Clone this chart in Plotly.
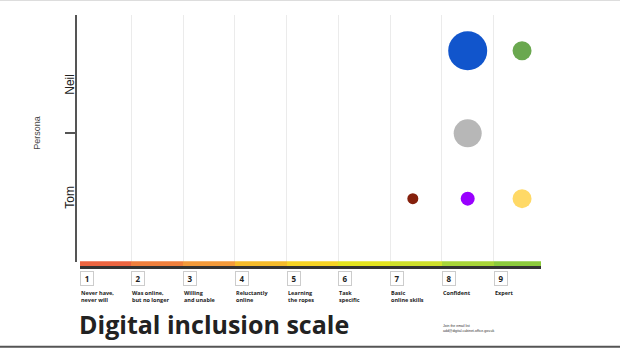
import plotly.graph_objects as go

# ---------------- data ----------------
levels = [1, 2, 3, 4, 5, 6, 7, 8, 9]
level_labels = [
    "Never have,<br>never will",
    "Was online,<br>but no longer",
    "Willing<br>and unable",
    "Reluctantly<br>online",
    "Learning<br>the ropes",
    "Task<br>specific",
    "Basic<br>online skills",
    "Confident",
    "Expert",
]
segment_colors = ["#ec6440", "#f07f3c", "#f39a3a", "#f5bb2a", "#f7d424",
                  "#e4e41f", "#cfe02b", "#a8d538", "#8ccb3c"]
band_value = [1] * 9

persona_names = ["Neil", "Tom"]
persona_pos = [0.717, 0.259]

bubble_level = [8.0, 9.05, 8.0, 6.94, 8.0, 9.05]
bubble_row = [0.855, 0.855, 0.52, 0.255, 0.255, 0.255]
bubble_size = [39, 19, 28, 11, 14, 19]
bubble_colors = ["#1155cc", "#6aa84f", "#b7b7b7", "#85200c", "#9900ff", "#ffd966"]

title_text = "Digital inclusion scale"
email_text = "Join the email list<br>add@digital.cabinet-office.gov.uk"

# ---------------- layout geometry ----------------
W, H = 620, 349
L, R, T, B = 77, 79, 15, 79.5
PW = W - L - R
PH = H - T - B
bottom_px = H - B


def px(xp):
    return (xp - L) / PW


def py(yp):
    return (bottom_px - yp) / PH


fig = go.Figure()

# bubbles
fig.add_trace(go.Scatter(
    x=bubble_level, y=bubble_row, mode="markers",
    marker=dict(size=bubble_size, sizemode="diameter", color=bubble_colors,
                opacity=1, line=dict(width=0)),
    xaxis="x", yaxis="y", hoverinfo="skip", showlegend=False,
))

# scale bar (dark base + coloured band)
fig.add_trace(go.Bar(x=levels, y=[0.36 * v for v in band_value], width=1,
                     marker=dict(color="#333333", line=dict(width=0)),
                     xaxis="x", yaxis="y2", showlegend=False, hoverinfo="skip"))
fig.add_trace(go.Bar(x=levels, y=[0.64 * v for v in band_value], width=1,
                     marker=dict(color=segment_colors, line=dict(width=0)),
                     xaxis="x", yaxis="y2", showlegend=False, hoverinfo="skip"))

annotations = []
# number boxes and labels
for lv, lab in zip(levels, level_labels):
    annotations.append(dict(
        x=lv - 0.5, xref="x", xanchor="left", y=py(279), yref="paper", yanchor="middle",
        text=f"<b>{lv}</b>", showarrow=False, width=12, height=13,
        bordercolor="#cccccc", borderwidth=1, borderpad=0, bgcolor="white",
        font=dict(family="Open Sans, Arial", size=8, color="#222222"), align="center"))
    annotations.append(dict(
        x=lv - 0.5, xref="x", xanchor="left", y=py(289), yref="paper", yanchor="top",
        text=f"<b>{lab}</b>", showarrow=False, align="left", borderpad=0,
        font=dict(family="Open Sans, Arial", size=5.5, color="#222222")))

# persona labels
for name, pos in zip(persona_names, persona_pos):
    annotations.append(dict(
        x=px(70), xref="paper", y=pos, yref="y", text=name, textangle=-90,
        showarrow=False, xanchor="center", yanchor="middle",
        font=dict(family="Arial", size=12, color="#222222")))

annotations.append(dict(
    x=px(37), xref="paper", y=py(133), yref="paper", text="Persona", textangle=-90,
    showarrow=False, xanchor="center", yanchor="middle",
    font=dict(family="Arial", size=9, color="#444444")))

annotations.append(dict(
    x=px(77), xref="paper", xanchor="left", y=py(324.5), yref="paper", yanchor="middle",
    text=f"<b>{title_text}</b>", showarrow=False,
    font=dict(family="Open Sans", size=25, color="#222222", weight=800)))

annotations.append(dict(
    x=px(441), xref="paper", xanchor="left", y=py(329.5), yref="paper", yanchor="middle",
    text=email_text, showarrow=False, align="left",
    font=dict(family="Arial", size=3.5, color="#333333")))

shapes = [
    dict(type="line", xref="paper", yref="paper", x0=px(0), x1=px(W), y0=py(0.5), y1=py(0.5),
         line=dict(color="#dddddd", width=1)),
    dict(type="line", xref="paper", yref="paper", x0=px(0), x1=px(W), y0=py(347.5), y1=py(347.5),
         line=dict(color="#555555", width=2)),
]

x_lo = 0.5 - (79.5 - L) / 51.76
x_hi = x_lo + PW / 51.76

fig.update_layout(
    width=W, height=H,
    margin=dict(l=L, r=R, t=T, b=B, pad=0),
    paper_bgcolor="white", plot_bgcolor="white",
    barmode="stack", bargap=0,
    xaxis=dict(range=[x_lo, x_hi], tickvals=[1.5, 2.5, 3.5, 4.5, 5.5, 6.5, 7.5, 8.5],
               showticklabels=False, showgrid=True, gridcolor="#ebebeb", gridwidth=1,
               zeroline=False, showline=False, ticks="", fixedrange=True),
    yaxis=dict(domain=[py(262), 1], range=[0, 1], tickvals=[0.521], ticktext=[""],
               ticks="outside", ticklen=10, tickwidth=1.5, tickcolor="#555555",
               showgrid=False, zeroline=False, showline=True, linecolor="#555555",
               linewidth=1.5),
    yaxis2=dict(domain=[0, py(261.7)], range=[0, 1], showticklabels=False, showgrid=False,
                zeroline=False, showline=False, ticks=""),
    annotations=annotations,
    shapes=shapes,
    showlegend=False,
)

fig.write_html("out.html")
